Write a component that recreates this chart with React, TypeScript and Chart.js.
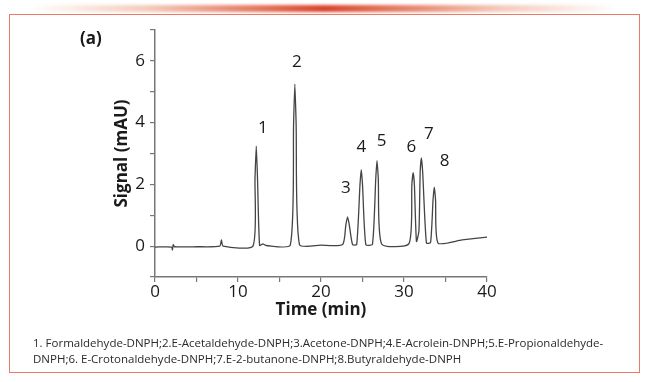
import React, { useEffect, useRef } from "react";
import { Chart, registerables } from "chart.js";

Chart.register(...registerables);

// Chromatogram trace
const times = [0, 2.0, 2.1, 2.2, 2.35, 5.0, 7.8, 8.0, 8.2, 11.8, 12.05, 12.2, 12.35, 12.6, 13.0, 13.4, 16.3, 16.7, 16.85, 17.0, 17.4, 20.0, 22.6, 23.0, 23.2, 23.4, 23.8, 24.3, 24.7, 24.85, 25.0, 25.4, 26.2, 26.6, 26.75, 26.9, 27.3, 30.6, 30.95, 31.1, 31.25, 31.5, 31.8, 31.95, 32.1, 32.25, 32.7, 33.2, 33.5, 33.65, 33.8, 34.1, 37.0, 40.2];
const signal = [-0.03, -0.03, -0.12, 0.05, -0.02, -0.02, 0.0, 0.2, 0.0, 0.0, 2.2, 3.24, 2.2, 0.02, 0.07, 0.02, 0.03, 4.0, 5.25, 4.0, 0.05, 0.03, 0.05, 0.7, 0.95, 0.7, 0.05, 0.05, 2.0, 2.48, 2.0, 0.05, 0.06, 2.2, 2.77, 2.2, 0.07, 0.08, 2.0, 2.38, 2.0, 0.15, 0.5, 2.4, 2.86, 2.4, 0.1, 0.12, 1.5, 1.91, 1.5, 0.1, 0.2, 0.3];

// Peak labels
const peakNames = ["1", "2", "3", "4", "5", "6", "7", "8"];
const peakLabelTime = [13.0, 17.1, 23.0, 24.85, 27.3, 30.9, 33.0, 34.9];
const peakLabelValue = [3.83, 5.97, 1.88, 3.2, 3.4, 3.2, 3.62, 2.75];

// Axes
const xMin = 0;
const xMax = 40;
const xStep = 5;
const yMin = -1;
const yMax = 7;
const yStep = 1;
const xTitle = "Time (min)";
const yTitle = "Signal (mAU)";
const panelLabel = "(a)";
const captionLines = [
  "1. Formaldehyde-DNPH;2.E-Acetaldehyde-DNPH;3.Acetone-DNPH;4.E-Acrolein-DNPH;5.E-Propionaldehyde-",
  "DNPH;6. E-Crotonaldehyde-DNPH;7.E-2-butanone-DNPH;8.Butyraldehyde-DNPH",
];

const FONT = "'Open Sans', Lato, sans-serif";

const peakLabelPlugin = {
  id: "peakLabels",
  afterDatasetsDraw(chart: any) {
    const { ctx, scales } = chart;
    ctx.save();
    ctx.fillStyle = "#1a1a1a";
    ctx.font = `17px ${FONT}`;
    ctx.textAlign = "center";
    ctx.textBaseline = "middle";
    peakNames.forEach((n, i) => {
      ctx.fillText(n, scales.x.getPixelForValue(peakLabelTime[i]), scales.y.getPixelForValue(peakLabelValue[i]));
    });
    ctx.restore();
  },
};

export default function App() {
  const ref = useRef<HTMLCanvasElement>(null);
  useEffect(() => {
    document.body.style.margin = "0";
    const canvas = ref.current!;
    const chart = new Chart(canvas, {
      type: "line",
      data: {
        datasets: [
          {
            data: times.map((t, i) => ({ x: t, y: signal[i] })),
            borderColor: "#444444",
            borderWidth: 1.3,
            pointRadius: 0,
            tension: 0.2,
            fill: false,
          },
        ],
      },
      options: {
        animation: false,
        responsive: false,
        devicePixelRatio: 1,
        layout: { padding: { left: 108, top: 30, right: 161, bottom: 62 } },
        plugins: { legend: { display: false }, tooltip: { enabled: false } },
        scales: {
          x: {
            type: "linear",
            min: xMin,
            max: xMax,
            afterFit: (s: any) => {
              s.height = 43;
            },
            ticks: {
              stepSize: xStep,
              color: "#1a1a1a",
              font: { family: FONT, size: 17, lineHeight: 1 },
              padding: 2,
              maxRotation: 0,
              callback: (v: any) => (Number(v) % 10 === 0 ? String(v) : ""),
            },
            grid: { drawOnChartArea: false, drawTicks: true, tickLength: 5, color: "#777", lineWidth: 1.2 },
            border: { color: "#777", width: 1.5 },
            title: {
              display: true,
              text: xTitle,
              color: "#1a1a1a",
              font: { family: FONT, size: 17, weight: "bold" },
              padding: { top: 0, bottom: 0 },
            },
          },
          y: {
            type: "linear",
            min: yMin,
            max: yMax,
            afterFit: (s: any) => {
              s.width = 47;
            },
            ticks: {
              stepSize: yStep,
              color: "#1a1a1a",
              font: { family: FONT, size: 17 },
              padding: 5,
              callback: (v: any) => (Number(v) >= 0 && Number(v) % 2 === 0 && Number(v) < 7 ? String(v) : ""),
            },
            grid: { drawOnChartArea: false, drawTicks: true, tickLength: 5, color: "#777", lineWidth: 1.2 },
            border: { color: "#777", width: 1.5 },
            title: {
              display: true,
              text: yTitle,
              color: "#1a1a1a",
              font: { family: FONT, size: 17, weight: "bold" },
              padding: { top: 4, bottom: 4 },
            },
          },
        },
      },
      plugins: [peakLabelPlugin],
    });
    return () => chart.destroy();
  }, []);

  return (
    <div style={{ position: "relative", width: 648, height: 382, background: "#fff", overflow: "hidden" }}>
      <div
        style={{
          position: "absolute",
          left: 30,
          top: 5,
          width: 588,
          height: 7,
          background:
            "linear-gradient(to right, rgba(255,255,255,0), rgba(236,160,130,0.55) 20%, #e06a50 42%, #d9442e 50%, #e06a50 58%, rgba(236,160,130,0.55) 80%, rgba(255,255,255,0))",
          filter: "blur(1.5px)",
        }}
      />
      <div
        style={{
          position: "absolute",
          left: 9,
          top: 14,
          width: 629,
          height: 357,
          border: "1.5px solid #ec7a66",
          background: "#fff",
        }}
      />
      <canvas ref={ref} width={648} height={382} style={{ position: "absolute", left: 0, top: 0 }} />
      <div
        style={{
          position: "absolute",
          left: 80,
          top: 26,
          fontFamily: FONT,
          fontWeight: "bold",
          fontSize: 17,
          color: "#1a1a1a",
        }}
      >
        {panelLabel}
      </div>
      <div
        style={{
          position: "absolute",
          left: 33,
          top: 335,
          fontFamily: FONT,
          fontSize: 11.5,
          lineHeight: "16px",
          color: "#2a2a2a",
          whiteSpace: "nowrap",
        }}
      >
        {captionLines.map((l, i) => (
          <div key={i}>{l}</div>
        ))}
      </div>
    </div>
  );
}
